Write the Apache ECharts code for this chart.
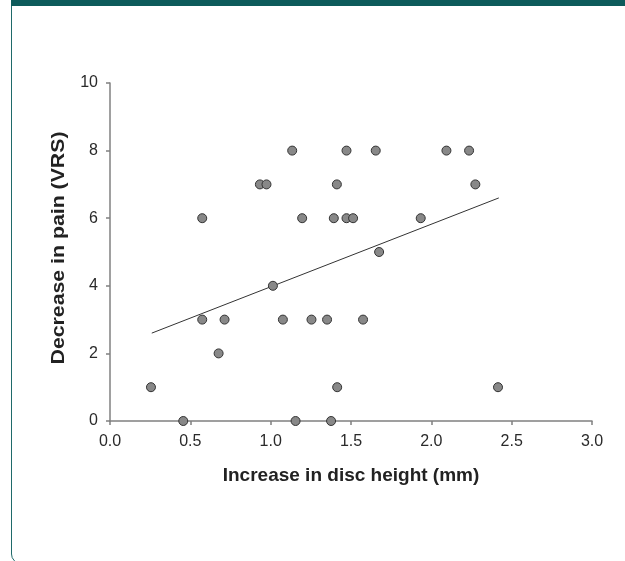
<!DOCTYPE html>
<html>
<head>
<meta charset="utf-8">
<script src="https://cdn.jsdelivr.net/npm/echarts@6/dist/echarts.min.js"></script>
<style>
  html, body { margin: 0; padding: 0; background: #fff; }
  .frame {
    position: absolute; left: 11px; top: -20px; width: 660px; height: 584px;
    border: 1.5px solid #1f6a6a; border-radius: 10px; box-sizing: border-box;
  }
  .head { position: absolute; left: 11px; top: 0; width: 614px; height: 6px; background: #0d5b5b; }
  #chart { position: absolute; left: 0; top: 0; width: 625px; height: 561px; }
</style>
</head>
<body>
<div class="frame"></div>
<div class="head"></div>
<div id="chart"></div>
<script>
// 椎间盘高度增加 vs 疼痛减轻
var discHeight = [0.255, 0.456, 0.574, 0.574, 0.676, 0.713, 0.933, 0.974, 1.014, 1.076,
  1.134, 1.155, 1.196, 1.254, 1.351, 1.376, 1.393, 1.412, 1.414, 1.472,
  1.472, 1.513, 1.575, 1.654, 1.675, 1.934, 2.094, 2.235, 2.274, 2.415]
var painDecrease = [1, 0, 6, 3, 2, 3, 7, 7, 4, 3,
  8, 0, 6, 3, 3, 0, 6, 7, 1, 8,
  6, 6, 3, 8, 5, 6, 8, 8, 7, 1]
// 回归线两端
var fitX = [0.26, 2.42]
var fitY = [2.6, 6.6]

var points = []
for (var i = 0; i < discHeight.length; i++) {
  points.push([discHeight[i], painDecrease[i]])
}
var fitLine = []
for (var i = 0; i < fitX.length; i++) {
  fitLine.push([fitX[i], fitY[i]])
}

var chart = echarts.init(document.getElementById('chart'))
var axisCol = '#808080'
var textFont = '"Liberation Sans", Arial, sans-serif'

chart.setOption({
  animation: false,
  backgroundColor: 'transparent',
  grid: { left: 110, right: 33, top: 83, bottom: 140 },
  // y轴标题（原图被纵向拉长）
  graphic: [{
    type: 'text',
    x: 59, y: 248,
    rotation: Math.PI / 2,
    scaleX: 1.12,
    style: {
      text: 'Decrease in pain (VRS)',
      font: 'bold 19px "Liberation Sans", Arial, sans-serif',
      fill: '#222',
      align: 'center',
      verticalAlign: 'middle'
    }
  }],
  xAxis: {
    type: 'value', min: 0, max: 3, interval: 0.5,
    name: 'Increase in disc height (mm)',
    nameLocation: 'middle', nameGap: 45,
    nameTextStyle: { fontFamily: textFont, fontWeight: 'bold', fontSize: 19, color: '#222' },
    axisLine: { lineStyle: { color: axisCol, width: 1.5 } },
    axisTick: { show: true, inside: false, length: 4, lineStyle: { color: axisCol, width: 1.5 } },
    axisLabel: {
      fontFamily: textFont, fontSize: 16, color: '#2a2a2a', margin: 13,
      formatter: function (v) { return v.toFixed(1) }
    },
    splitLine: { show: false }
  },
  yAxis: {
    type: 'value', min: 0, max: 10, interval: 2,
    axisLine: { show: true, lineStyle: { color: axisCol, width: 1.5 } },
    axisTick: { show: true, inside: false, length: 4, lineStyle: { color: axisCol, width: 1.5 } },
    axisLabel: { fontFamily: textFont, fontSize: 16, color: '#2a2a2a', margin: 12 },
    splitLine: { show: false }
  },
  series: [
    {
      type: 'line',
      data: fitLine,
      symbol: 'none',
      lineStyle: { color: '#333', width: 1 },
      z: 1
    },
    {
      type: 'scatter',
      data: points,
      symbol: 'circle',
      symbolSize: 9,
      itemStyle: { color: '#888', borderColor: '#333', borderWidth: 1, opacity: 1 },
      z: 2
    }
  ]
})
</script>
</body>
</html>
